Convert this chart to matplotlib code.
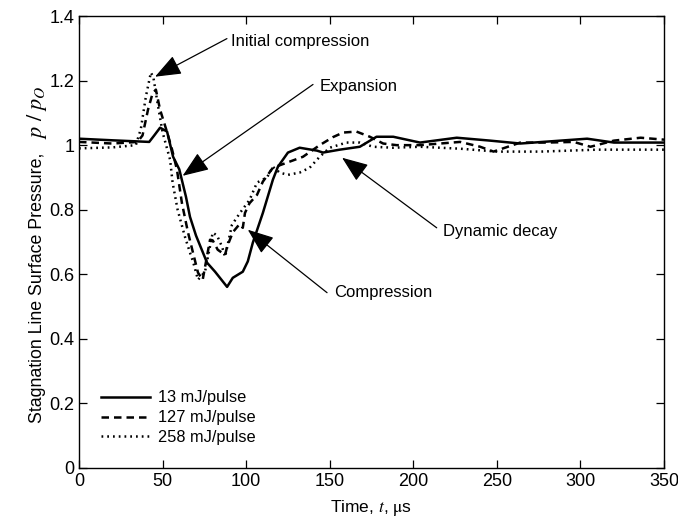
import matplotlib
matplotlib.use("Agg")
import matplotlib.pyplot as plt

plt.rcParams['font.family'] = ['Liberation Sans Narrow', 'Liberation Sans', 'DejaVu Sans']
plt.rcParams['mathtext.fontset'] = 'stix'

# ===============================
# DADOS
# ===============================

t_13 = [0, 20, 42, 45, 48.5, 52.7, 56.3, 60, 64, 66.4, 70, 76.6, 81.4, 88.6, 92, 98, 101,
        104, 110, 116, 119, 122, 125, 132, 142.4, 146, 156, 168, 178, 188, 204, 226,
        246, 264, 288, 304, 320, 350]
p_13 = [1.02, 1.015, 1.01, 1.03, 1.054, 1.042, 0.964, 0.925, 0.84, 0.778, 0.72, 0.636, 0.608,
        0.561, 0.589, 0.608, 0.64, 0.698, 0.79, 0.893, 0.933, 0.955, 0.977, 0.992, 0.983,
        0.977, 0.986, 0.995, 1.026, 1.026, 1.008, 1.023, 1.014, 1.005, 1.014, 1.02, 1.008,
        1.008]

t_127 = [0, 20, 35, 38, 41.3, 44, 46, 48.5, 52.7, 55.7, 58.6, 61.6, 65.2, 68.2, 71.2, 74,
         78.4, 80, 83, 87.4, 88.6, 92, 96, 98, 99.3, 102, 106.5, 110, 116, 124.5, 134, 144,
         152, 158, 166, 174, 182, 190, 204, 228, 240, 248, 264, 280, 296, 306, 320, 336, 350]
p_127 = [1.01, 1.005, 1.01, 1.03, 1.11, 1.16, 1.172, 1.11, 1.04, 0.986, 0.924, 0.82, 0.73,
         0.667, 0.605, 0.583, 0.707, 0.705, 0.676, 0.66, 0.685, 0.73, 0.755, 0.744, 0.79,
         0.82, 0.846, 0.887, 0.93, 0.946, 0.964, 1.0, 1.025, 1.039, 1.042, 1.026, 1.005, 1.0,
         1.0, 1.01, 0.995, 0.98, 1.008, 1.008, 1.01, 0.995, 1.014, 1.023, 1.017]

t_258 = [0, 20, 34, 37, 40, 43, 44.5, 47, 50, 54.5, 56, 59, 63.4, 66.4, 68.2, 71.2, 75.4,
         80, 82.6, 85.6, 87.4, 91.5, 96.3, 102, 106.5, 112.5, 116, 120, 125, 132, 138,
         144, 150, 160, 168, 176, 188, 204, 228, 250, 276, 310, 350]
p_258 = [0.99, 0.993, 1.0, 1.05, 1.15, 1.225, 1.21, 1.13, 1.04, 0.955, 0.884, 0.80, 0.716,
         0.667, 0.64, 0.583, 0.608, 0.729, 0.72, 0.685, 0.654, 0.753, 0.79, 0.83, 0.884,
         0.90, 0.933, 0.915, 0.908, 0.915, 0.93, 0.964, 0.992, 1.008, 1.008, 0.995, 0.992,
         0.995, 0.989, 0.98, 0.98, 0.986, 0.986]

rotulos = ["13 mJ/pulse", "127 mJ/pulse", "258 mJ/pulse"]

# anotacoes: texto, posicao do texto, cauda da seta, ponta da seta
anotacoes = [
    ("Initial compression", (91, 1.321), (88.5, 1.33), (45.5, 1.212)),
    ("Expansion", (144, 1.181), (140, 1.188), (62, 0.905)),
    ("Compression", (152.6, 0.543), (148.4, 0.543), (101, 0.738)),
    ("Dynamic decay", (218, 0.732), (214, 0.744), (157.4, 0.961)),
]

# ===============================
# FIGURA
# ===============================

fig = plt.figure(figsize=(6.78, 5.25), dpi=100)
ax = fig.add_axes([0.1165, 0.1086, 0.8629, 0.8609])

ax.plot(t_13, p_13, color='k', lw=1.8, linestyle='-', label=rotulos[0])
ax.plot(t_127, p_127, color='k', lw=1.8, linestyle=(0, (3.0, 2.0)), label=rotulos[1])
ax.plot(t_258, p_258, color='k', lw=1.8, linestyle=(0, (0.7, 1.6)), label=rotulos[2])

for texto, pos, cauda, ponta in anotacoes:
    ax.annotate('', xy=ponta, xytext=cauda,
                arrowprops=dict(arrowstyle='-|>,head_length=0.9,head_width=0.35',
                                color='k', lw=0.9, shrinkA=0, shrinkB=0,
                                mutation_scale=18))
    ax.text(pos[0], pos[1], texto, ha='left', va='center', fontsize=12)

ax.set_xlim(0, 350)
ax.set_ylim(0, 1.4)
ax.set_xticks(range(0, 351, 50))
ax.set_yticks([0, 0.2, 0.4, 0.6, 0.8, 1.0, 1.2, 1.4])
ax.set_yticklabels(["0", "0.2", "0.4", "0.6", "0.8", "1", "1.2", "1.4"])
ax.tick_params(direction='in', top=True, right=True, length=6, width=0.9, labelsize=13)
for lado in ax.spines.values():
    lado.set_linewidth(1.0)

ax.set_xlabel(r"Time, $t$, $\mathrm{\mu}$s", fontsize=12.5, labelpad=6)

# rotulo do eixo y: texto + p/pO maior, como no original
ax.set_ylabel("Stagnation Line Surface Pressure,", fontsize=12.8)
ax.yaxis.set_label_coords(-0.056, 0.399)
ax.text(-0.072, 0.728, r"$p\ /\ p_O$", transform=ax.transAxes, rotation=90,
        ha='center', va='bottom', fontsize=16)

ax.legend(loc='lower left', bbox_to_anchor=(0.018, 0.025), frameon=False, fontsize=11.8,
          handlelength=3.0, handletextpad=0.45, labelspacing=0.3, borderpad=0.2)

fig.savefig("out.png", dpi=100)
